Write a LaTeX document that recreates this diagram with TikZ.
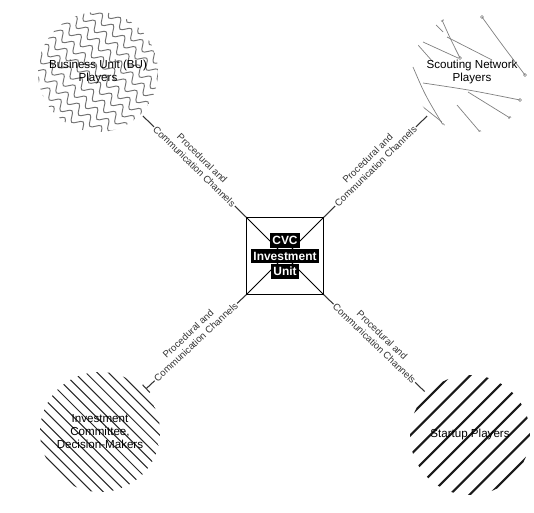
\documentclass[tikz,border=0pt]{standalone}
\usepackage{fontspec}
\setmainfont{Liberation Sans}
\usetikzlibrary{arrows.meta, positioning, backgrounds}
\usetikzlibrary{decorations.pathmorphing}
\tikzstyle{player} = [circle, minimum size=2.5cm, inner sep=0pt,
align=center,
font=\fontsize{6.6}{7.4}\selectfont]
\tikzstyle{unitrow} = [fill=black, text=white, inner xsep=1.2pt, inner ysep=1.6pt,
text height=5pt, text depth=0.3pt,
font=\fontsize{6.8}{7}\selectfont\bfseries]
\tikzstyle{chan} = [sloped, fill=white, inner sep=0.6pt, font=\fontsize{5.5}{6}\selectfont]
\tikzstyle{chanup} = [sloped, anchor=south, inner sep=0pt, outer ysep=4.4pt, font=\fontsize{5.5}{6}\selectfont]
\tikzstyle{link} = [black!80, line width=0.6pt]
\tikzstyle{sketch} = [black!50, line width=0.4pt]

\begin{document}
\begin{tikzpicture}[x=0.02cm, y=-0.02cm]
		
		\useasboundingbox (0,0) rectangle (534,513);
		
		% the four groups of players
		\node[player] (bu) at (98,72) {Business Unit (BU)\\ Players};
		\node[player] (scout) at (472,72) {Scouting Network\\ Players};
		\node[player] (ic) at (100,432) {Investment\\ Committee,\\ Decision-Makers};
		\node[player] (startup) at (470,435) {Startup Players};
		
		% fills of the circles
		\begin{scope}[on background layer]
			\begin{scope}
				\clip (bu.center) circle (1.2cm);
				\foreach \i in {-8,...,8}
					\draw[black!55, line width=0.55pt, decorate, decoration={snake, amplitude=2.4pt, segment length=9pt},
					rotate around={-45:(bu.center)}]
					([shift={(-75,\i*10)}]bu.center) -- ([shift={(75,\i*10)}]bu.center);
			\end{scope}
			\begin{scope}
				\clip (scout.center) circle (1.2cm);
				\draw[sketch] (442,20) .. controls (450,38) .. (460,58);
				\draw[sketch] (482,17) .. controls (500,42) .. (525,75);
				\draw[sketch] (447,37) .. controls (470,48) .. (492,60);
				\draw[sketch] (423,42) -- (458,58);
				\draw[sketch] (413,67) .. controls (425,95) .. (443,125);
				\draw[sketch] (423,83) .. controls (470,90) .. (520,100);
				\draw[sketch] (468,92) -- (510,118);
				\draw[sketch] (457,105) -- (480,132);
				\draw[sketch] (418,103) -- (442,122);
				\draw[sketch] (418,45) -- (433,62);
				\draw[sketch] (436,25) -- (443,32);
				\foreach \p in {(442,20),(460,58),(482,17),(525,75),(443,125),(520,100),(510,118),(480,132)}
					\draw[sketch, line width=0.3pt] \p circle (1.5);
			\end{scope}
			\begin{scope}
				\clip (ic.center) circle (1.2cm);
				\foreach \i in {-9,...,9}
					\draw[black!85, line width=0.6pt, rotate around={-45:(ic.center)}]
					([shift={(-75,\i*8)}]ic.center) -- ([shift={(75,\i*8)}]ic.center);
			\end{scope}
			\begin{scope}
				\clip (startup.center) circle (1.2cm);
				\foreach \i in {-5,...,5}
					\draw[black!90, line width=1.2pt, rotate around={45:(startup.center)}]
					([shift={(-75,\i*14)}]startup.center) -- ([shift={(75,\i*14)}]startup.center);
			\end{scope}
		\end{scope}
		
		% central unit
		\node[draw, line width=0.7pt, minimum size=1.54cm] (box) at (285,256) {};
		\draw[line width=0.5pt] (box.north west) -- (box.south east);
		\draw[line width=0.5pt] (box.north east) -- (box.south west);
		\node[unitrow] (unit2) at (box.center) {Investment};
		\node[unitrow, above=0pt of unit2] (unit1) {CVC};
		\node[unitrow, below=0pt of unit2] (unit3) {Unit};
		
		% channels
		\draw[link] (box.north west) -- node[chan] (ch1) {Communication Channels} node[chanup] (ch1t) {Procedural and} (bu);
		\draw[link] (box.north east) -- node[chan] (ch2) {Communication Channels} node[chanup] (ch2t) {Procedural and} (scout);
		\draw[link, -{Bar[width=6pt]}] (box.south west) -- node[chan] (ch3) {Communication Channels} node[chanup] (ch3t) {Procedural and} (ic);
		\draw[link] (box.south east) -- node[chan] (ch4) {Communication Channels} node[chanup] (ch4t) {Procedural and} (startup);
		
	\end{tikzpicture}
\end{document}
